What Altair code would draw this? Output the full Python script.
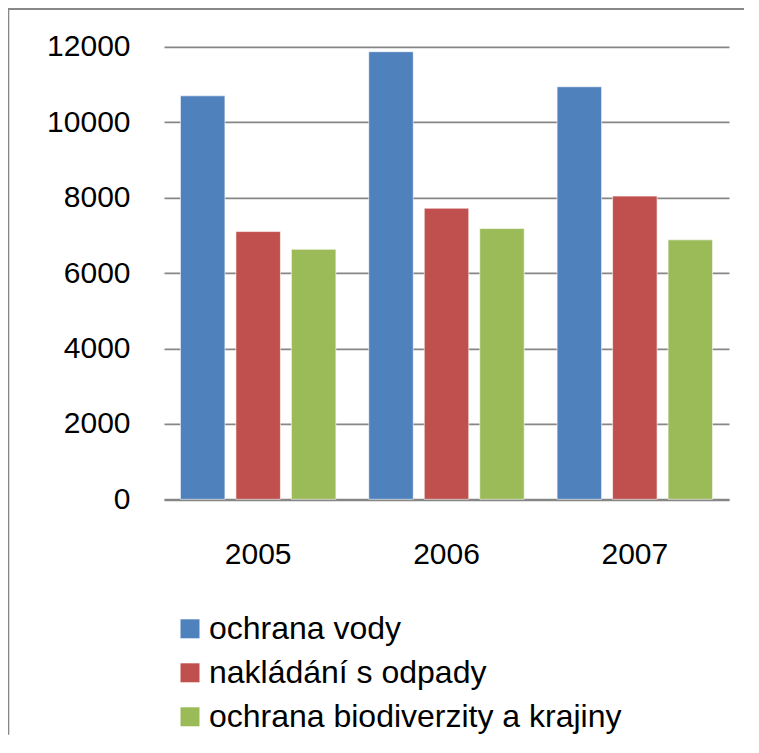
import altair as alt
import pandas as pd

years = ["2005", "2006", "2007"]
series = ["ochrana vody", "nakládání s odpady", "ochrana biodiverzity a krajiny"]
ochrana_vody = [10700, 11870, 10940]
nakladani = [7100, 7720, 8040]
biodiverzita = [6630, 7180, 6880]
colors = ["#4F81BD", "#C0504D", "#9BBB59"]
y_ticks = [0, 2000, 4000, 6000, 8000, 10000, 12000]

rows = []
for vals, s in zip([ochrana_vody, nakladani, biodiverzita], series):
    for y, v in zip(years, vals):
        rows.append({"rok": y, "serie": s, "hodnota": v})
df = pd.DataFrame(rows)

FONT = "Liberation Sans"
GRAY = "#868686"

bars = alt.Chart(df).mark_bar(stroke="white", strokeOpacity=0.6, strokeWidth=1).encode(
    x=alt.X("rok:N", sort=years,
            scale=alt.Scale(paddingInner=0, paddingOuter=0),
            axis=alt.Axis(title=None, labelAngle=0, labelFontSize=30, labelFont=FONT,
                          labelColor="#000000", labelBaseline="alphabetic", labelPadding=64,
                          ticks=False, tickSize=0, domainColor=GRAY, domainWidth=2)),
    xOffset=alt.XOffset("serie:N", sort=series,
                        scale=alt.Scale(paddingInner=0.198, paddingOuter=0.296)),
    y=alt.Y("hodnota:Q", scale=alt.Scale(domain=[0, 12000], nice=False),
            axis=alt.Axis(title=None, values=y_ticks, format="d", grid=True, gridColor=GRAY,
                          gridWidth=1.8, domain=False, ticks=False, tickSize=0, labelPadding=34,
                          labelFontSize=30, labelFont=FONT, labelColor="#000000")),
    color=alt.Color("serie:N", sort=series,
                    scale=alt.Scale(domain=series, range=colors),
                    legend=alt.Legend(title=None, orient="none", legendX=10, legendY=566,
                                      direction="vertical", symbolType="square", symbolSize=361,
                                      symbolStrokeWidth=0, labelFontSize=32, labelFont=FONT,
                                      labelColor="#000000", labelOffset=3, rowPadding=12,
                                      padding=0, labelLimit=600)),
)

frame_data = alt.Data(values=[{"a": 1}])
left_border = alt.Chart(frame_data).mark_rule(color="#888888", strokeWidth=2).encode(
    x=alt.value(-155.7), x2=alt.value(-155.7), y=alt.value(-37.8), y2=alt.value(688)
)
top_border = alt.Chart(frame_data).mark_rule(color="#888888", strokeWidth=2).encode(
    x=alt.value(-156.7), x2=alt.value(580), y=alt.value(-37.8), y2=alt.value(-37.8)
)

chart = alt.layer(bars, left_border, top_border).properties(
    width=565, height=452.5,
    autosize=alt.AutoSizeParams(type="none"),
    padding={"left": 156, "top": 38.8, "right": 18, "bottom": 236},
).configure_view(stroke=None)

chart.save("out.html", embed_options={"renderer": "svg", "actions": False})
